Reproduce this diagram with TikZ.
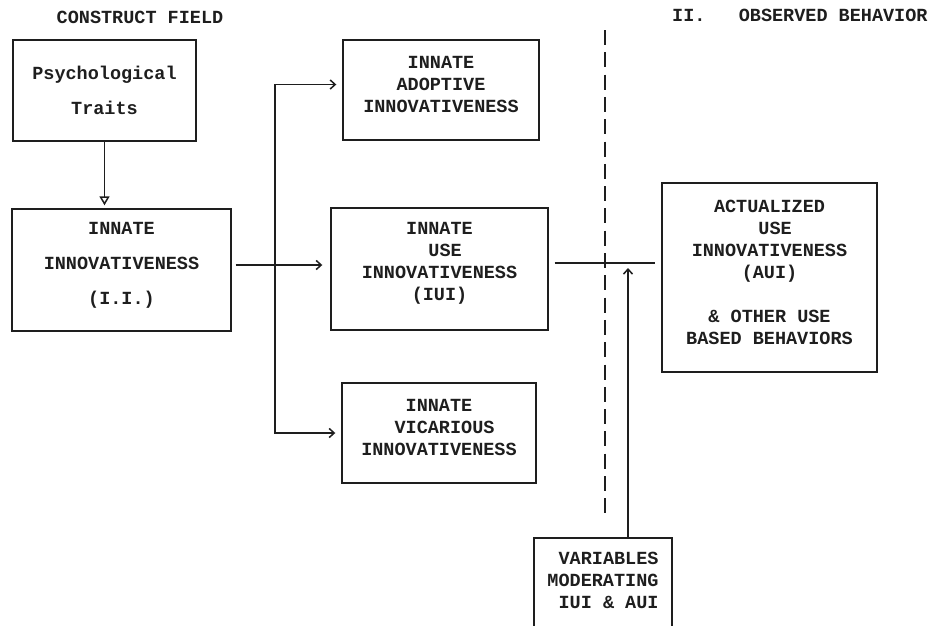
\documentclass[tikz,border=0pt]{standalone}
\usepackage{fontspec}
\setmonofont{Liberation Mono}
\usetikzlibrary{arrows.meta}
\definecolor{ink}{HTML}{1E1E1E}
\begin{document}
\begin{tikzpicture}[x=1pt,y=-1pt,
  >={Straight Barb[length=5pt,width=9pt]},
  box/.style={draw=ink, line width=1.4pt, inner sep=0pt},
  lbl/.style={font=\ttfamily\bfseries\fontsize{18.5}{22}\selectfont, text=ink, align=center, inner sep=0pt},
  lblwide/.style={lbl, font=\ttfamily\bfseries\fontsize{18.5}{35}\selectfont},
  con/.style={draw=ink, line width=1.5pt},
]
\clip (0,0) rectangle (931,625);

% headings of the two fields
\node[lbl] (hleft) at (140,17) {CONSTRUCT FIELD};
\node[lbl, anchor=west] (hright) at (672,15) {II.\ \ \ OBSERVED BEHAVIOR};

% boxes
\node[box, minimum width=183pt, minimum height=101pt] (psych) at (104.5,90.5) {};
\node[lblwide] (psychT) at (104.5,90.5) {Psychological\\Traits};

\node[box, minimum width=219pt, minimum height=122pt] (ii) at (121.5,270) {};
\node[lblwide] (iiT) at (121.5,265) {INNATE\\INNOVATIVENESS\\(I.I.)};

\node[box, minimum width=196pt, minimum height=100pt] (adopt) at (441,90) {};
\node[lbl] (adoptT) at (441,84.5) {INNATE\\ADOPTIVE\\INNOVATIVENESS};

\node[box, minimum width=217pt, minimum height=122pt] (iui) at (439.5,269) {};
\node[lbl] (iuiT) at (439.5,263) {INNATE\\\hspace{0.6em}USE\\INNOVATIVENESS\\(IUI)\hspace{0.6em}};

\node[box, minimum width=194pt, minimum height=100pt] (vic) at (439,433) {};
\node[lbl] (vicT) at (439,427) {INNATE\\\hspace{0.6em}VICARIOUS\\INNOVATIVENESS};

\node[box, minimum width=215pt, minimum height=189pt] (aui) at (769.5,277.5) {};
\node[lbl] (auiT) at (769.5,272) {ACTUALIZED\\\hspace{0.6em}USE\\INNOVATIVENESS\\(AUI)\hspace{1.2em}\\[22pt]\& OTHER USE\\BASED BEHAVIORS};

\node[box, minimum width=138pt, minimum height=112pt] (var) at (603,594) {};
\node[lbl] (varT) at (603,580) {\hspace{0.6em}VARIABLES\\MODERATING\\\hspace{0.6em}IUI \& AUI};

% dashed boundary between the fields
\coordinate (divtop) at (605,30);
\coordinate (divbot) at (605,513);
\draw[con, dash pattern=on 15pt off 7.3pt] (divtop) -- (divbot);

% connectors
\draw[con, -{Triangle[open,length=9pt,width=10pt]}, shorten >=3pt]
  (psych.south) -- (psych.south |- ii.north);
\draw[con, ->, shorten <=4pt, shorten >=8pt] (iiT -| ii.east) -- (iiT -| iui.west);
\coordinate (fork) at (275,265);
\draw[con, ->, shorten >=6pt] (fork) |- (adoptT -| adopt.west);
\draw[con, ->, shorten >=6pt] (fork) |- (vic.west);
\draw[con, shorten <=6pt, shorten >=6pt] (iuiT -| iui.east) -- (iuiT -| aui.west);
\coordinate (modfoot) at (628,538);
\draw[con, ->, shorten >=5pt] (modfoot) -- (modfoot |- iuiT);
\end{tikzpicture}
\end{document}
